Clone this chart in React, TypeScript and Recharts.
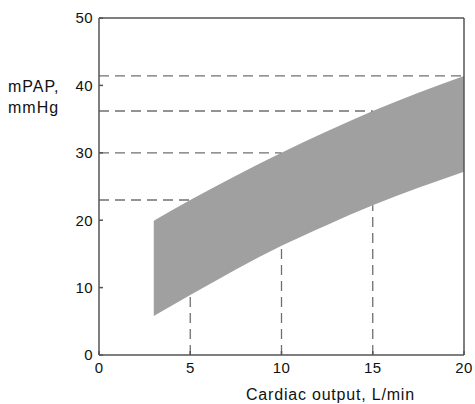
import React from "react";
import { ComposedChart, Area, XAxis, YAxis, ReferenceLine } from "recharts";

// cardiac output (L/min) and the mPAP band edges (mmHg)
const cardiacOutput = [3, 5, 7.5, 10, 12.5, 15, 17.5, 20];
const mpapLower = [5.8, 8.9, 12.7, 16.2, 19.3, 22.2, 24.8, 27.2];
const mpapUpper = [19.9, 23.0, 26.6, 30.0, 33.2, 36.2, 38.9, 41.4];

// dashed guides: upper value read across to the y-axis, lower value dropped to the x-axis
const guideX = [5, 10, 15, 20];
const guideUpper = [23.0, 30.0, 36.2, 41.4];
const guideLower = [8.9, 16.2, 22.2];

const xTicks = [0, 5, 10, 15, 20];
const yTicks = [0, 10, 20, 30, 40, 50];

const data = cardiacOutput.map((co, i) => ({ co, range: [mpapLower[i], mpapUpper[i]] }));

const axisColor = "#555";
const guideColor = "#707070";
const font = "'Liberation Sans', Arial, sans-serif";
const tickStyle = { fill: "#111", fontSize: 15, fontFamily: font, letterSpacing: 0.4 };

export default function App() {
  return (
    <div style={{ position: "absolute", left: 0, top: 0, width: 475, height: 404, background: "#fff" }}>
      <ComposedChart width={475} height={404} data={data} margin={{ top: 17, right: 10, bottom: 19, left: 4 }}>
        <XAxis
          dataKey="co"
          type="number"
          domain={[0, 20]}
          ticks={xTicks}
          allowDataOverflow
          height={30}
          stroke={axisColor}
          strokeWidth={1.5}
          tick={tickStyle}
          tickSize={-4}
          tickMargin={11}
        />
        <XAxis xAxisId="top" orientation="top" type="number" domain={[0, 20]} ticks={xTicks} height={1} stroke={axisColor} strokeWidth={1.5} tick={false} tickSize={-4} />
        <YAxis
          type="number"
          domain={[0, 50]}
          ticks={yTicks}
          allowDataOverflow
          width={95}
          stroke={axisColor}
          strokeWidth={1.5}
          tick={tickStyle}
          tickSize={-4}
          tickMargin={10}
        />
        <YAxis yAxisId="right" orientation="right" type="number" domain={[0, 50]} ticks={yTicks} width={1} stroke={axisColor} strokeWidth={1.5} tick={false} tickSize={-4} />
        {guideX.map((x, i) => (
          <ReferenceLine
            key={"h" + x}
            segment={[{ x: 0, y: guideUpper[i] }, { x, y: guideUpper[i] }]}
            stroke={guideColor}
            strokeWidth={1.3}
            strokeDasharray="10 6"
          />
        ))}
        {guideLower.map((y, i) => (
          <ReferenceLine
            key={"v" + guideX[i]}
            segment={[{ x: guideX[i], y: 0 }, { x: guideX[i], y }]}
            stroke={guideColor}
            strokeWidth={1.3}
            strokeDasharray="10 6"
          />
        ))}
        <Area dataKey="range" type="monotone" stroke="none" fill="#a0a0a0" fillOpacity={1} isAnimationActive={false} />
      </ComposedChart>
      <div style={{ position: "absolute", left: 8, top: 76, fontFamily: font, fontSize: 16, lineHeight: "21px", letterSpacing: 1, color: "#111" }}>
        mPAP,<br />mmHg
      </div>
      <div style={{ position: "absolute", left: 246, top: 387, fontFamily: font, fontSize: 16, lineHeight: "16px", letterSpacing: 0.8, color: "#111", whiteSpace: "nowrap" }}>
        Cardiac output, L/min
      </div>
    </div>
  );
}
